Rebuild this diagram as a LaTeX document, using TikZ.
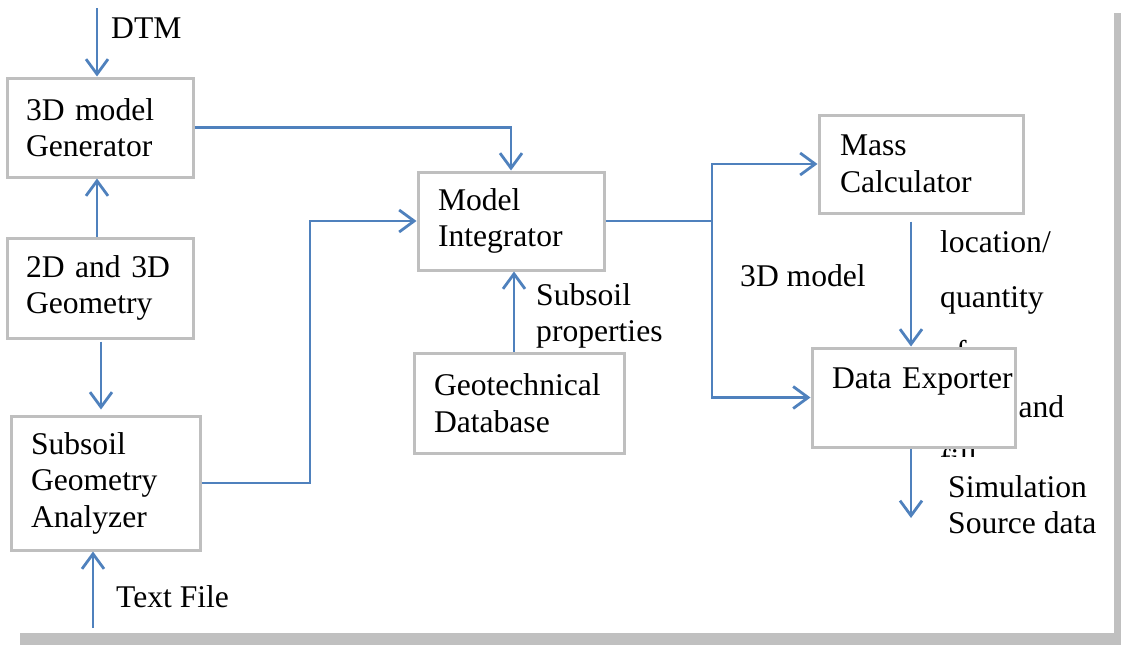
\documentclass[tikz,border=0pt]{standalone}
\usepackage{fontspec}
\setmainfont{Liberation Serif}
\usetikzlibrary{arrows.meta}
\definecolor{lineblue}{RGB}{79,129,189}
\definecolor{boxgray}{RGB}{191,191,191}
\definecolor{shadowgray}{RGB}{192,192,192}
\begin{document}
\begin{tikzpicture}[x=1pt,y=-1pt,
  box/.style={draw=boxgray, line width=3pt, fill=white, align=left, inner ysep=0pt,
    font=\fontsize{31.6}{36.5}\selectfont},
  lbl/.style={anchor=base west, inner sep=0pt, font=\fontsize{31.6}{36.5}\selectfont},
  arr/.style={draw=lineblue, line width=2.8pt, -{Straight Barb[length=15pt,width=22pt,line width=2.8pt]}},
  ln/.style={draw=lineblue, line width=2.8pt}]
\useasboundingbox (0,0) rectangle (1121,645);
\fill[shadowgray] (1114,13) rectangle (1121,645);
\fill[shadowgray] (20,633) rectangle (1121,645);

% labels underneath the Data Exporter box (clipped as in the reference)
\begin{scope}
\clip (930,200) rectangle (1110,456);
\node[lbl] (l1) at (940,252) {location/};
\node[lbl] (l2) at (940,307) {quantity};
\node[lbl] (l3) at (940,362) {of};
\node[lbl] (l4) at (940,417) {\makebox[124pt][s]{cut and}};
\node[lbl] (l5) at (940,470) {fill};
\end{scope}

% boxes
\node[box, inner xsep=19pt, text width=148pt, minimum height=99pt] (gen) at (100,127.5) {3D model\\Generator};
\node[box, inner xsep=19pt, text width=148pt, minimum height=100pt] (geo) at (100,288) {2D and 3D\\Geometry};
\node[box, inner xsep=20pt, text width=149pt, minimum height=134pt] (ana) at (105.5,483) {Subsoil\\Geometry\\Analyzer};
\node[box, inner xsep=20pt, text width=146pt, minimum height=98pt] (integ) at (511,221) {Model\\Integrator};
\node[box, inner xsep=20pt, text width=170pt, minimum height=100pt] (geot) at (519,403) {Geotechnical\\Database};
\node[box, inner xsep=21pt, text width=162pt, minimum height=98pt] (mass) at (921,164) {Mass\\Calculator};
\node[box, inner xsep=10pt, text width=183pt, text height=40pt, text depth=59pt] (exp) at (913.5,397.5) {\hspace*{10pt}\mbox{Data Exporter}};

% other labels
\node[lbl] (dtm) at (111,38) {DTM};
\node[lbl] (tf) at (116,607) {Text File};
\node[lbl] (sp1) at (536,305) {Subsoil};
\node[lbl] (sp2) at (536,341) {properties};
\node[lbl] (m3d) at (740,286) {3D model};
\node[lbl] (sim1) at (948,497) {Simulation};
\node[lbl] (sim2) at (948,533) {Source data};

% column coordinates
\coordinate (xa) at (97,0);
\coordinate (xb) at (101,0);
\coordinate (xe) at (310,0);
\coordinate (xf) at (514,0);
\coordinate (xg) at (712,0);
\coordinate (xh) at (911,0);
\coordinate (dtmin) at (97,8);
\coordinate (tfin) at (93,628);
\coordinate (simout) at (911,518);

% connectors
\draw[arr] (dtmin) -- (gen.north -| dtmin);
\draw[arr] (geo.north -| xa) -- (gen.south -| xa);
\draw[arr] ([yshift=-2pt]geo.south -| xb) -- ([yshift=5pt]ana.north -| xb);
\draw[arr] (tfin) -- (ana.south -| tfin);
\draw[arr] (gen.east) -| (integ.north);
\draw[arr] (ana.east) -| (xe |- integ.west) -- (integ.west);
\draw[arr] (geot.north -| xf) -- (integ.south -| xf);
\draw[ln] (integ.east) -- (xg |- integ.east);
\draw[arr] (xg |- integ.east) |- (mass.west);
\draw[arr] (xg |- integ.east) |- (exp.west);
\draw[arr] ([yshift=-7pt]mass.south -| xh) -- (exp.north -| xh);
\draw[arr] (exp.south -| xh) -- (simout);
\end{tikzpicture}
\end{document}
